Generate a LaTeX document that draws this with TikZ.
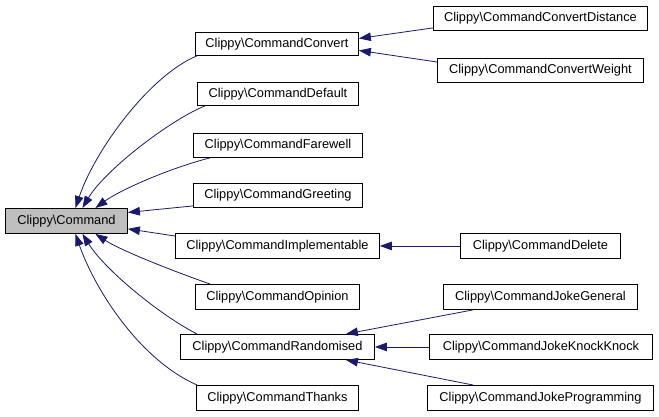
\documentclass[tikz,border=0pt]{standalone}
\usepackage{fontspec}
\setmainfont{Liberation Sans}
\usetikzlibrary{arrows.meta,calc}
\definecolor{edgeblue}{RGB}{25,25,112}
\definecolor{basegray}{RGB}{191,191,191}
\tikzset{
  cls/.style={draw=black, line width=0.9pt, fill=white, inner sep=0pt, anchor=north west,
    font=\fontsize{12.8}{15}\selectfont},
  inh/.style={draw=edgeblue, line width=0.8pt, -{Triangle[length=12pt,width=8.5pt]}, fill=none},
}
\newcommand{\clsbox}[6]{% name, x1, y1, x2, y2, text
  \node[cls, minimum width={(#4-#2)*1pt}, minimum height={(#5-#3)*1pt}] (#1) at (#2,#3) {#6};}
\begin{document}
\begin{tikzpicture}[x=1pt,y=-1pt]
\useasboundingbox[fill=white] (0,0) rectangle (659,417);
% nodes
\node[cls, fill=basegray, minimum width=122pt, minimum height=25pt] (cmd) at (5,208) {Clippy\textbackslash Command};
\clsbox{conv}{195}{32}{358}{55}{Clippy\textbackslash CommandConvert}
\clsbox{default}{197}{82}{358}{105}{Clippy\textbackslash CommandDefault}
\clsbox{farewell}{193}{133}{362}{157}{Clippy\textbackslash CommandFarewell}
\clsbox{greeting}{193}{183}{362}{207}{Clippy\textbackslash CommandGreeting}
\clsbox{impl}{175}{233}{379}{258}{Clippy\textbackslash CommandImplementable}
\clsbox{opinion}{195}{284}{359}{309}{Clippy\textbackslash CommandOpinion}
\clsbox{random}{180}{334}{374}{359}{Clippy\textbackslash CommandRandomised}
\clsbox{thanks}{196}{385}{358}{410}{Clippy\textbackslash CommandThanks}
\clsbox{dist}{433}{6}{647}{30}{Clippy\textbackslash CommandConvertDistance}
\clsbox{weight}{437}{58}{643}{82}{Clippy\textbackslash CommandConvertWeight}
\clsbox{delete}{460}{233}{620}{258}{Clippy\textbackslash CommandDelete}
\clsbox{jgen}{443}{284}{637}{309}{Clippy\textbackslash CommandJokeGeneral}
\clsbox{jknock}{429}{334}{652}{359}{Clippy\textbackslash CommandJokeKnockKnock}
\clsbox{jprog}{427}{385}{653}{410}{Clippy\textbackslash CommandJokeProgramming}
% edges to Command
\draw[inh] ([xshift=2pt]conv.south west) .. controls (150,75) and (95,150) .. ([xshift=9pt]cmd.north);
\draw[inh] ([xshift=8pt]default.south west) .. controls (170,120) and (105,170) .. ([xshift=16pt]cmd.north);
\draw[inh] ([xshift=17pt]farewell.south west) .. controls (170,168) and (120,190) .. ([xshift=29pt]cmd.north);
\draw[inh] ([yshift=2pt]greeting.south west) -- ([yshift=8.5pt]cmd.east);
\draw[inh] ([yshift=-3pt]impl.north west) -- ([yshift=5pt]cmd.south east);
\draw[inh] ([xshift=15pt]opinion.north west) .. controls (170,270) and (120,250) .. ([xshift=29pt]cmd.south);
\draw[inh] ([xshift=17pt]random.north west) .. controls (160,315) and (105,270) .. ([xshift=16pt]cmd.south);
\draw[inh] ([xshift=1pt]thanks.north west) .. controls (140,360) and (95,290) .. ([xshift=9pt]cmd.south);
% second level
\draw[inh] ([yshift=3pt]dist.south west) -- ([yshift=5.5pt]conv.east);
\draw[inh] ([yshift=-4pt]weight.north west) -- ([yshift=-6.5pt]conv.east);
\draw[inh] (delete.west) -- (impl.east);
\draw[inh] ([xshift=30pt]jgen.south west) -- ([xshift=-29pt]random.north east);
\draw[inh] (jknock.west) -- (random.east);
\draw[inh] ([xshift=46pt]jprog.north west) -- ([xshift=-29pt]random.south east);
\end{tikzpicture}
\end{document}
